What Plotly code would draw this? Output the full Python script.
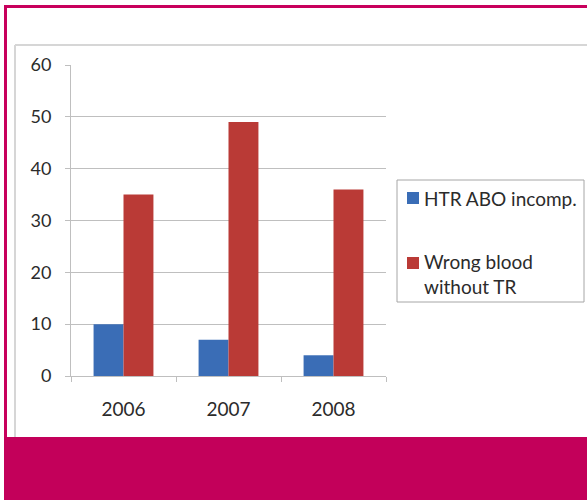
import plotly.graph_objects as go

years = ["2006", "2007", "2008"]
htr_abo = [10, 7, 4]
wrong_blood = [35, 49, 36]
series_names = ["HTR ABO incomp.", "Wrong blood<br>without TR"]
colors = ["#3A6DB6", "#BA3A36"]

W, H = 587, 500
def px(x): return x / W
def py(y): return 1 - y / H

fig = go.Figure()
fig.add_trace(go.Bar(x=years, y=htr_abo, name=series_names[0], marker_color=colors[0],
                     marker_line_width=0, showlegend=False))
fig.add_trace(go.Bar(x=years, y=wrong_blood, name=series_names[1], marker_color=colors[1],
                     marker_line_width=0, showlegend=False))

font_family = "Lato, 'Open Sans', sans-serif"
grid = "#BFBFBF"
text_color = "#2B2B2B"

shapes = [
    # inner light grey chart frame
    dict(type="line", xref="paper", yref="paper", x0=px(15), x1=px(15), y0=py(45), y1=py(437),
         line=dict(color="#D6D6D6", width=2)),
    dict(type="line", xref="paper", yref="paper", x0=px(15), x1=1, y0=py(45), y1=py(45),
         line=dict(color="#D6D6D6", width=2)),
    # crimson outer frame
    dict(type="rect", xref="paper", yref="paper", x0=px(4), x1=px(7), y0=py(437), y1=py(5),
         fillcolor="#C8005C", line=dict(width=0)),
    dict(type="rect", xref="paper", yref="paper", x0=px(4), x1=1, y0=py(8), y1=py(5),
         fillcolor="#C8005C", line=dict(width=0)),
    # bottom band
    dict(type="rect", xref="paper", yref="paper", x0=px(4), x1=1, y0=0, y1=py(437),
         fillcolor="#C3005A", line=dict(width=0)),
    # legend box
    dict(type="rect", xref="paper", yref="paper", x0=px(397), x1=px(584), y0=py(302), y1=py(180),
         fillcolor="white", line=dict(color="#A6A6A6", width=1)),
    # legend swatches
    dict(type="rect", xref="paper", yref="paper", x0=px(407), x1=px(419), y0=py(204), y1=py(192),
         fillcolor=colors[0], line=dict(width=0)),
    dict(type="rect", xref="paper", yref="paper", x0=px(407), x1=px(419), y0=py(269), y1=py(257),
         fillcolor=colors[1], line=dict(width=0)),
]

annotations = [
    dict(xref="paper", yref="paper", x=px(422), y=py(198), text=series_names[0],
         xanchor="left", yanchor="middle", align="left", showarrow=False,
         font=dict(size=19, color=text_color)),
    dict(xref="paper", yref="paper", x=px(422), y=py(274), text=series_names[1],
         xanchor="left", yanchor="middle", align="left", showarrow=False,
         font=dict(size=19, color=text_color)),
]

fig.update_layout(
    width=W, height=H, autosize=False,
    margin=dict(l=0, r=0, t=0, b=0, pad=0, autoexpand=False),
    paper_bgcolor="white", plot_bgcolor="white",
    barmode="group", bargap=0.43, bargroupgap=0,
    font=dict(family=font_family, color=text_color, size=18),
    xaxis=dict(domain=[px(71), px(386)], showline=True, linecolor=grid, linewidth=1,
               ticks="outside", ticklen=5, tickcolor=grid, tickson="boundaries",
               tickfont=dict(size=19), ticklabelstandoff=16, showgrid=False,
               automargin=False),
    yaxis=dict(domain=[py(376), py(65)], range=[0, 60], dtick=10, showline=True,
               linecolor=grid, linewidth=1, gridcolor=grid, gridwidth=1,
               ticks="outside", ticklen=5, tickcolor=grid, tickfont=dict(size=18),
               ticklabelstandoff=10, zeroline=False, automargin=False),
    showlegend=False,
    shapes=shapes,
    annotations=annotations,
)

fig.write_html("out.html", config={"displayModeBar": False},
               post_script="document.body.style.margin='0';document.body.style.overflow='hidden';")
